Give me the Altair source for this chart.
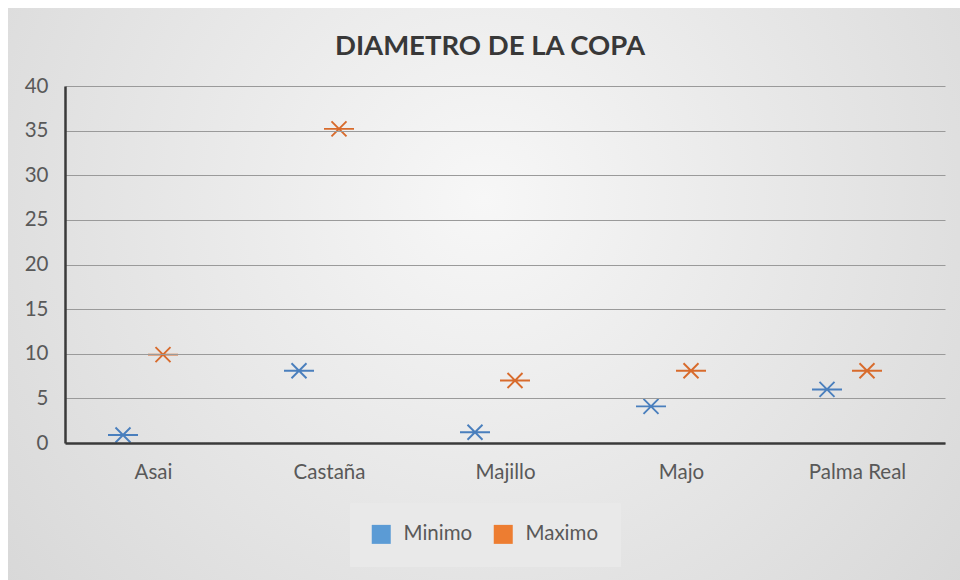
import altair as alt
import pandas as pd

categories = ["Asai", "Castaña", "Majillo", "Majo", "Palma Real"]
minimo = [0.9, 8.1, 1.2, 4.1, 6.0]
maximo = [9.9, 35.2, 7.0, 8.1, 8.1]
series_names = ["Minimo", "Maximo"]
marker_colors = ["#4a7fbd", "#d86b2c"]
legend_colors = ["#5b9bd5", "#ed7d31"]
y_ticks = [0, 5, 10, 15, 20, 25, 30, 35, 40]

df_min = pd.DataFrame({"cat": categories, "val": minimo, "serie": series_names[0]})
df_max = pd.DataFrame({"cat": categories, "val": maximo, "serie": series_names[1]})
df_all = pd.concat([df_min, df_max], ignore_index=True)

W, H = 880, 357
PL, PT, PR, PB = 65, 86, 15, 137
FONT = "Lato"
LBL = 20.5

star = "M-1,0L1,0M-0.5,-0.5L0.5,0.5M-0.5,0.5L0.5,-0.5"

x_enc = alt.X("cat:N", sort=categories,
              scale=alt.Scale(paddingInner=0, paddingOuter=0),
              axis=alt.Axis(title=None, labelAngle=0, ticks=False,
                            domainColor="#3a3a3a", domainWidth=2.5,
                            labelFontSize=LBL, labelFont=FONT,
                            labelColor="#595959", labelPadding=19,
                            zindex=1))
y_enc = alt.Y("val:Q",
              scale=alt.Scale(domain=[0, 40], nice=False, zero=True),
              axis=alt.Axis(title=None, values=y_ticks, ticks=False,
                            domainColor="#3a3a3a", domainWidth=2.5,
                            grid=True, gridColor="#9a9a9a", gridWidth=1,
                            labelFontSize=LBL, labelFont=FONT,
                            labelColor="#595959", labelPadding=17,
                            zindex=1))

bg = alt.Chart(alt.Data(values=[{"a": 1}])).mark_rect(
    fill=alt.RadialGradient(
        gradient="radial", x1=0.5, y1=0.4, r1=0.0, x2=0.5, y2=0.4, r2=0.75,
        stops=[alt.GradientStop(color="#f7f7f7", offset=0),
               alt.GradientStop(color="#d3d3d3", offset=1)]),
    strokeWidth=0,
).encode(
    x=alt.value(8 - PL), x2=alt.value(960 - PL),
    y=alt.value(8 - PT), y2=alt.value(580 - PT),
)

def layer(df, offset):
    return alt.Chart(df).mark_point(
        shape=star, filled=False, size=900, strokeWidth=1.9, opacity=1
    ).encode(
        x=x_enc, y=y_enc,
        xOffset=alt.value(offset),
        color=alt.Color("serie:N",
                        scale=alt.Scale(domain=series_names, range=marker_colors),
                        legend=None),
    )

legend_layer = alt.Chart(df_all).mark_square(size=0, filled=True, opacity=1).encode(
    x=x_enc, y=y_enc,
    fill=alt.Fill("serie:N",
                  scale=alt.Scale(domain=series_names, range=legend_colors),
                  legend=alt.Legend(
                      title=None, orient="none", legendX=285, legendY=417,
                      direction="horizontal", symbolType="square",
                      symbolSize=361, symbolStrokeWidth=0,
                      symbolOpacity=1,
                      labelFontSize=LBL, labelFont=FONT, labelColor="#595959",
                      labelOffset=12, columnPadding=20, padding=21,
                      fillColor="#e9e9e9", strokeColor="#e9e9e9")),
)

chart = alt.layer(bg, legend_layer, layer(df_min, -30), layer(df_max, 10)).properties(
    width=W, height=H,
    autosize=alt.AutoSizeParams(type="none"),
    padding={"left": PL, "top": PT, "right": PR, "bottom": PB},
    title=alt.Title("DIAMETRO DE LA COPA", fontSize=27.5, font=FONT,
                    fontWeight="bold", color="#383838", offset=-52,
                    anchor="middle", frame="group", dx=-15, zindex=2),
).configure(background="#ffffff").configure_view(stroke=None)

chart.save("out.html", embed_options={"renderer": "svg", "actions": False})
